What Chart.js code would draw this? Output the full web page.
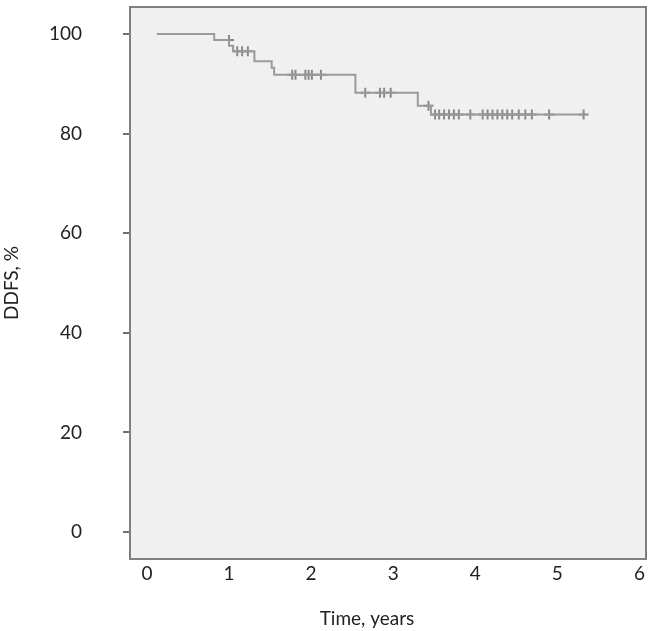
<!DOCTYPE html>
<html>
<head>
<meta charset="utf-8">
<script src="https://cdn.jsdelivr.net/npm/chart.js@4.4.1/dist/chart.umd.min.js"></script>
<style>
  body { margin: 0; background: #fff; }
  #wrap { width: 653px; height: 631px; }
</style>
</head>
<body>
<div id="wrap"><canvas id="myChart" width="653" height="631"></canvas></div>
<script>
// DADES (llegides del gràfic)
const stepTimes = [0.12, 0.82, 1.0, 1.05, 1.31, 1.52, 1.55, 2.54, 3.30, 3.46, 5.32];
const stepSurv = [100, 98.8, 97.6, 96.5, 94.5, 93.2, 91.8, 88.2, 85.6, 83.8, 83.8];
const censorTimes = [1.0, 1.10, 1.16, 1.23, 1.77, 1.81, 1.93, 1.97, 2.01, 2.12,
  2.66, 2.84, 2.89, 2.97, 3.43, 3.51, 3.56, 3.62, 3.68, 3.74, 3.80, 3.94,
  4.09, 4.15, 4.21, 4.27, 4.33, 4.39, 4.45, 4.53, 4.61, 4.69, 4.90, 5.32];
const xTicks = [0, 1, 2, 3, 4, 5, 6];
const yTicks = [0, 20, 40, 60, 80, 100];

// nivell de supervivència just abans d'un temps donat (corba esglaonada)
function nivell(t) {
  let s = stepSurv[0];
  for (let i = 0; i < stepTimes.length; i++) {
    if (stepTimes[i] < t) s = stepSurv[i];
  }
  return s;
}

const corba = stepTimes.map((t, i) => ({ x: t, y: stepSurv[i] }));
const censures = censorTimes.map((t) => ({ x: t, y: nivell(t) }));

const fontFamily = "Lato, 'Open Sans', sans-serif";

const fonsPlugin = {
  id: "fons",
  beforeDraw(chart) {
    const a = chart.chartArea;
    const ctx = chart.ctx;
    ctx.save();
    ctx.fillStyle = "#f0f0f0";
    ctx.fillRect(a.left, a.top, a.right - a.left, a.bottom - a.top);
    ctx.restore();
  },
  afterDraw(chart) {
    const a = chart.chartArea;
    const ctx = chart.ctx;
    ctx.save();
    ctx.strokeStyle = "#808080";
    ctx.lineWidth = 2;
    ctx.strokeRect(a.left, a.top, a.right - a.left, a.bottom - a.top);
    ctx.fillStyle = "#222";
    ctx.font = "19px " + fontFamily;
    ctx.textAlign = "center";
    ctx.textBaseline = "middle";
    ctx.fillText("Time, years", 367, 619);
    ctx.restore();
  }
};

const config = {
  type: "scatter",
  data: {
    datasets: [
      {
        type: "line",
        data: corba,
        stepped: "before",
        borderColor: "#9a9a9a",
        borderWidth: 2,
        pointRadius: 0,
        fill: false
      },
      {
        type: "scatter",
        data: censures,
        pointStyle: "cross",
        pointRadius: 5,
        borderColor: "#8a8a8a",
        borderWidth: 2,
        backgroundColor: "#8a8a8a"
      }
    ]
  },
  options: {
    responsive: false,
    animation: false,
    layout: { padding: { top: 3, right: 3, left: 0, bottom: 0 } },
    plugins: { legend: { display: false }, tooltip: { enabled: false } },
    scales: {
      x: {
        type: "linear",
        min: -0.206,
        max: 6.08,
        afterBuildTicks: (s) => { s.ticks = xTicks.map((v) => ({ value: v })); },
        afterFit: (s) => { s.height = 72; s.paddingLeft = 0; s.paddingRight = 0; },
        grid: { display: false, drawTicks: false },
        border: { display: false },
        ticks: { color: "#222", font: { family: fontFamily, size: 19 }, padding: 3 }
      },
      y: {
        min: -5.4,
        max: 105.4,
        afterBuildTicks: (s) => { s.ticks = yTicks.map((v) => ({ value: v })); },
        afterFit: (s) => { s.width = 130; s.paddingTop = 0; s.paddingBottom = 0; },
        grid: { drawOnChartArea: false, drawTicks: true, tickLength: 7, color: "#707070", lineWidth: 2 },
        border: { display: false },
        ticks: { color: "#222", font: { family: fontFamily, size: 19 }, padding: 41 },
        title: {
          display: true,
          text: "DDFS, %",
          color: "#222",
          font: { family: fontFamily, size: 19 },
          padding: { top: 0, bottom: 0 }
        }
      }
    }
  },
  plugins: [fonsPlugin]
};

new Chart(document.getElementById("myChart"), config);
</script>
</body>
</html>
